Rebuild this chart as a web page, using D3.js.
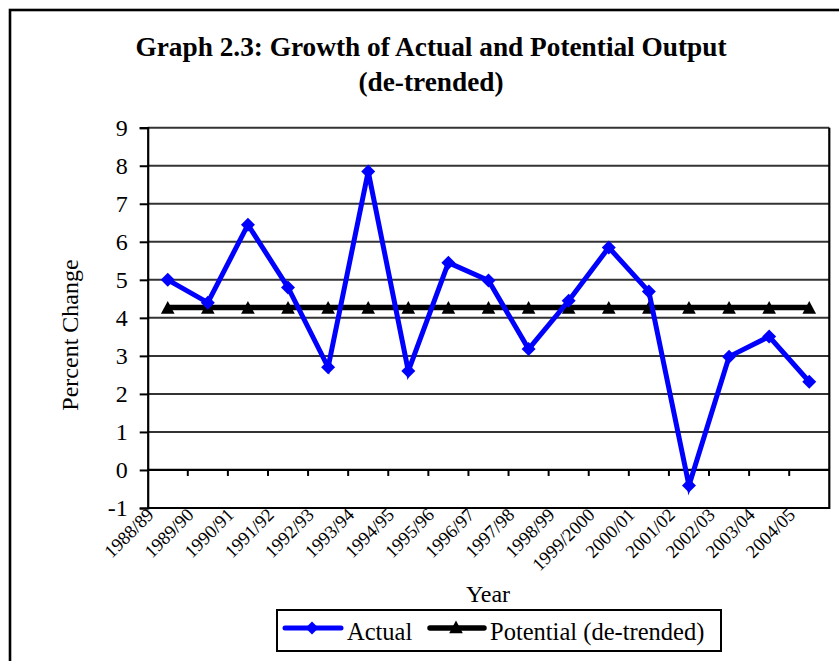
<!DOCTYPE html>
<html>
<head>
<meta charset="utf-8">
<script src="https://cdn.jsdelivr.net/npm/d3@7/dist/d3.min.js"></script>
<style>
  html, body { margin: 0; padding: 0; background: #fff; }
  svg { display: block; }
  text { font-family: "Liberation Serif", "Times New Roman", serif; fill: #000; }
</style>
</head>
<body>
<svg id="chart" width="839" height="661"></svg>
<script>
// Fiscal years on the category axis
const years = ["1988/89", "1989/90", "1990/91", "1991/92", "1992/93", "1993/94",
  "1994/95", "1995/96", "1996/97", "1997/98", "1998/99", "1999/2000",
  "2000/01", "2001/02", "2002/03", "2003/04", "2004/05"];

// Growth of actual output (percent change)
const actual = [5.0, 4.4, 6.45, 4.8, 2.7, 7.85, 2.6, 5.45, 4.98, 3.18, 4.45,
  5.85, 4.69, -0.41, 2.98, 3.51, 2.32];

// Growth of potential output (de-trended), constant across the period
const potential = [4.27, 4.27, 4.27, 4.27, 4.27, 4.27, 4.27, 4.27, 4.27, 4.27,
  4.27, 4.27, 4.27, 4.27, 4.27, 4.27, 4.27];

const yTicks = [-1, 0, 1, 2, 3, 4, 5, 6, 7, 8, 9];

const titleLines = ["Graph 2.3: Growth of Actual and Potential Output", "(de-trended)"];
const seriesNames = ["Actual", "Potential (de-trended)"];

const svg = d3.select("#chart");

// Outer chart frame
svg.append("rect")
  .attr("x", 10).attr("y", 10)
  .attr("width", 860).attr("height", 700)
  .attr("fill", "none").attr("stroke", "#000").attr("stroke-width", 2.6);

// Title
svg.append("text")
  .attr("x", 431).attr("y", 56)
  .attr("text-anchor", "middle")
  .attr("font-size", 27.3).attr("font-weight", "bold")
  .text(titleLines[0]);
svg.append("text")
  .attr("x", 431).attr("y", 91)
  .attr("text-anchor", "middle")
  .attr("font-size", 27.3).attr("font-weight", "bold")
  .text(titleLines[1]);

// Plot area
const plot = { left: 147.7, right: 829.3, top: 127.7, bottom: 508 };

const x = d3.scaleBand().domain(years).range([plot.left, plot.right]).padding(0);
const y = d3.scaleLinear().domain([-1, 9]).range([plot.bottom, plot.top]);
const cx = d => x(d) + x.bandwidth() / 2;

// Horizontal gridlines
svg.append("g")
  .selectAll("line")
  .data(yTicks.filter(t => t > -1))
  .join("line")
  .attr("x1", plot.left).attr("x2", plot.right)
  .attr("y1", d => y(d)).attr("y2", d => y(d))
  .attr("stroke", "#333").attr("stroke-width", 2);

// Plot area border (right and bottom)
svg.append("path")
  .attr("d", `M${plot.left},${plot.bottom}H${plot.right}V${plot.top}`)
  .attr("fill", "none").attr("stroke", "#000").attr("stroke-width", 2.2);

// Value axis
const yAxis = svg.append("g")
  .attr("transform", `translate(${plot.left},0)`)
  .call(d3.axisLeft(y).tickValues(yTicks).tickSize(8).tickPadding(12).tickFormat(d => String(d)));
yAxis.select(".domain").attr("stroke", "#000").attr("stroke-width", 2.2);
yAxis.selectAll(".tick line").attr("stroke", "#000").attr("stroke-width", 2);
yAxis.selectAll(".tick text")
  .attr("font-family", "Liberation Serif, serif")
  .attr("font-size", 24).attr("fill", "#000");

// Category axis crossing at zero
const xAxisY = y(0);
svg.append("line")
  .attr("x1", plot.left).attr("x2", plot.right)
  .attr("y1", xAxisY).attr("y2", xAxisY)
  .attr("stroke", "#000").attr("stroke-width", 2.2);
svg.append("g")
  .selectAll("line")
  .data(years.slice(1))
  .join("line")
  .attr("x1", d => x(d)).attr("x2", d => x(d))
  .attr("y1", xAxisY).attr("y2", xAxisY + 6)
  .attr("stroke", "#000").attr("stroke-width", 2);

// Category labels, rotated below the plot
svg.append("g")
  .selectAll("text")
  .data(years)
  .join("text")
  .attr("transform", d => `translate(${cx(d) - 13},${plot.bottom + 8}) rotate(-45)`)
  .attr("text-anchor", "end")
  .attr("font-size", 18.5)
  .text(d => d);

// Axis titles
svg.append("text")
  .attr("transform", `translate(78,335) rotate(-90)`)
  .attr("text-anchor", "middle")
  .attr("font-size", 24)
  .text("Percent Change");
svg.append("text")
  .attr("x", 488).attr("y", 602)
  .attr("text-anchor", "middle")
  .attr("font-size", 24)
  .text("Year");

// Series
const line = d3.line().x((d, i) => cx(years[i])).y(d => y(d));

const diamond = r => `M0,${-r}L${r},0L0,${r}L${-r},0Z`;
const triangle = r => `M0,${-r}L${r * 1.05},${r * 0.95}L${-r * 1.05},${r * 0.95}Z`;

// Potential output
svg.append("path")
  .datum(potential)
  .attr("d", line)
  .attr("fill", "none").attr("stroke", "#000").attr("stroke-width", 5.5);
svg.append("g")
  .selectAll("path")
  .data(potential)
  .join("path")
  .attr("transform", (d, i) => `translate(${cx(years[i])},${y(d)})`)
  .attr("d", triangle(6.5))
  .attr("fill", "#000");

// Actual output
svg.append("path")
  .datum(actual)
  .attr("d", line)
  .attr("fill", "none").attr("stroke", "#0000ff").attr("stroke-width", 5)
  .attr("stroke-linejoin", "miter");
svg.append("g")
  .selectAll("path")
  .data(actual)
  .join("path")
  .attr("transform", (d, i) => `translate(${cx(years[i])},${y(d)})`)
  .attr("d", diamond(7))
  .attr("fill", "#0000ff");

// Legend
const legend = svg.append("g");
legend.append("rect")
  .attr("x", 277).attr("y", 610)
  .attr("width", 444).attr("height", 41)
  .attr("fill", "#fff").attr("stroke", "#000").attr("stroke-width", 2);

legend.append("line")
  .attr("x1", 285).attr("x2", 341).attr("y1", 628).attr("y2", 628)
  .attr("stroke", "#0000ff").attr("stroke-width", 5).attr("stroke-linecap", "round");
legend.append("path")
  .attr("transform", "translate(312,628)")
  .attr("d", diamond(6.5)).attr("fill", "#0000ff");
legend.append("text")
  .attr("x", 347).attr("y", 640).attr("font-size", 24.5)
  .text(seriesNames[0]);

legend.append("line")
  .attr("x1", 430).attr("x2", 484).attr("y1", 628).attr("y2", 628)
  .attr("stroke", "#000").attr("stroke-width", 5.5).attr("stroke-linecap", "round");
legend.append("path")
  .attr("transform", "translate(456,627)")
  .attr("d", triangle(6.5)).attr("fill", "#000");
legend.append("text")
  .attr("x", 490).attr("y", 640).attr("font-size", 24.5)
  .text(seriesNames[1]);
</script>
</body>
</html>
